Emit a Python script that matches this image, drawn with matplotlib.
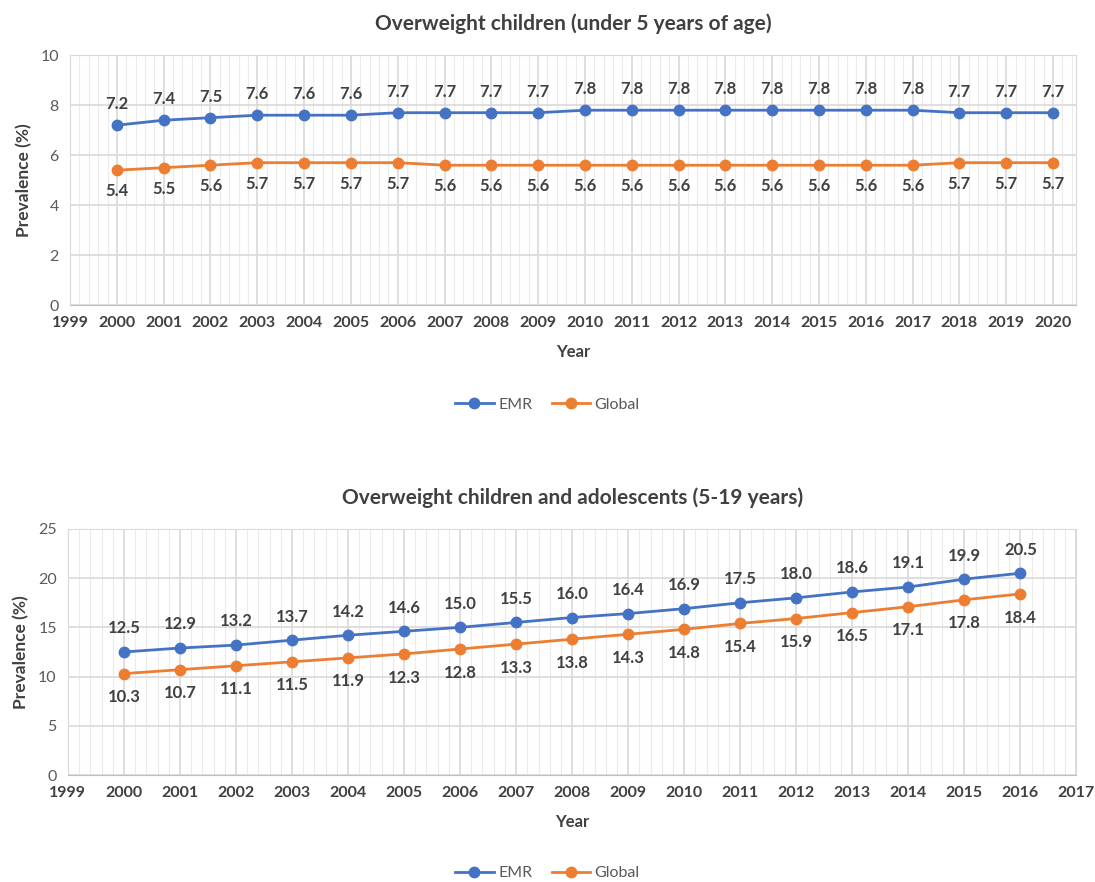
import numpy as np
import matplotlib.pyplot as plt
from matplotlib.ticker import MultipleLocator

plt.rcParams['font.family'] = ['Lato', 'DejaVu Sans']

anos_1 = list(range(2000, 2021))
emr_1 = [7.2, 7.4, 7.5, 7.6, 7.6, 7.6, 7.7, 7.7, 7.7, 7.7, 7.8, 7.8, 7.8, 7.8, 7.8, 7.8, 7.8, 7.8, 7.7, 7.7, 7.7]
global_1 = [5.4, 5.5, 5.6, 5.7, 5.7, 5.7, 5.7, 5.6, 5.6, 5.6, 5.6, 5.6, 5.6, 5.6, 5.6, 5.6, 5.6, 5.6, 5.7, 5.7, 5.7]

anos_2 = list(range(2000, 2017))
emr_2 = [12.5, 12.9, 13.2, 13.7, 14.2, 14.6, 15.0, 15.5, 16.0, 16.4, 16.9, 17.5, 18.0, 18.6, 19.1, 19.9, 20.5]
global_2 = [10.3, 10.7, 11.1, 11.5, 11.9, 12.3, 12.8, 13.3, 13.8, 14.3, 14.8, 15.4, 15.9, 16.5, 17.1, 17.8, 18.4]

azul = '#4472C4'
laranja = '#ED7D31'
cinza_texto = '#404040'
cinza_tick = '#595959'
cinza_grade = '#D9D9D9'

fig = plt.figure(figsize=(10.95, 8.82), dpi=100)
ax1 = fig.add_axes([0.064, 0.654, 0.919, 0.2834])
ax2 = fig.add_axes([0.062, 0.1213, 0.921, 0.279])


def desenha(ax, anos, emr, glob, xlim, ymax, ystep, titulo, leg_y, off):
    ax.plot(anos, emr, color=azul, marker='o', markersize=7.5, linewidth=2, label='EMR', zorder=3)
    ax.plot(anos, glob, color=laranja, marker='o', markersize=7.5, linewidth=2, label='Global', zorder=3)
    for x, v in zip(anos, emr):
        ax.annotate(f'{v:.1f}', (x, v), xytext=(0, off), textcoords='offset points',
                    ha='center', va='center', fontsize=12, fontweight='bold', color=cinza_texto)
    for x, v in zip(anos, glob):
        ax.annotate(f'{v:.1f}', (x, v), xytext=(0, -off), textcoords='offset points',
                    ha='center', va='center', fontsize=12, fontweight='bold', color=cinza_texto)
    ax.set_xlim(*xlim)
    ax.set_ylim(0, ymax)
    ax.xaxis.set_major_locator(MultipleLocator(1))
    ax.xaxis.set_minor_locator(MultipleLocator(0.2))
    ax.yaxis.set_major_locator(MultipleLocator(ystep))
    ax.grid(which='major', color=cinza_grade, linewidth=1.2)
    ax.grid(which='minor', axis='x', color='#EBEBEB', linewidth=0.8)
    ax.set_axisbelow(True)
    ax.tick_params(which='both', length=0)
    ax.tick_params(axis='x', labelsize=11.5, labelcolor=cinza_texto, pad=8)
    ax.tick_params(axis='y', labelsize=11.5, labelcolor=cinza_tick, pad=8)
    for lbl in ax.get_xticklabels():
        lbl.set_fontweight('bold')
    for s in ['top', 'right', 'left']:
        ax.spines[s].set_color(cinza_grade)
    ax.spines['bottom'].set_color('#BFBFBF')
    ax.set_xlabel('Year', fontsize=12, fontweight='bold', color=cinza_texto, labelpad=10)
    ax.set_ylabel('Prevalence (%)', fontsize=12.5, fontweight='bold', color=cinza_texto, labelpad=6)
    ax.set_title(titulo, fontsize=15, fontweight='bold', color=cinza_texto, pad=18)
    ax.legend(loc='center', bbox_to_anchor=(0.5, leg_y), bbox_transform=fig.transFigure,
              ncol=2, frameon=False, fontsize=11.5, labelcolor=cinza_tick,
              handlelength=2.4, columnspacing=1.2, handletextpad=0.3)


desenha(ax1, anos_1, emr_1, global_1, (1999, 2020.5), 10, 2,
        'Overweight children (under 5 years of age)', 0.541, 15)
desenha(ax2, anos_2, emr_2, global_2, (1999, 2017), 25, 5,
        'Overweight children and adolescents (5-19 years)', 0.0102, 17)

fig.savefig('out.png', dpi=100)
